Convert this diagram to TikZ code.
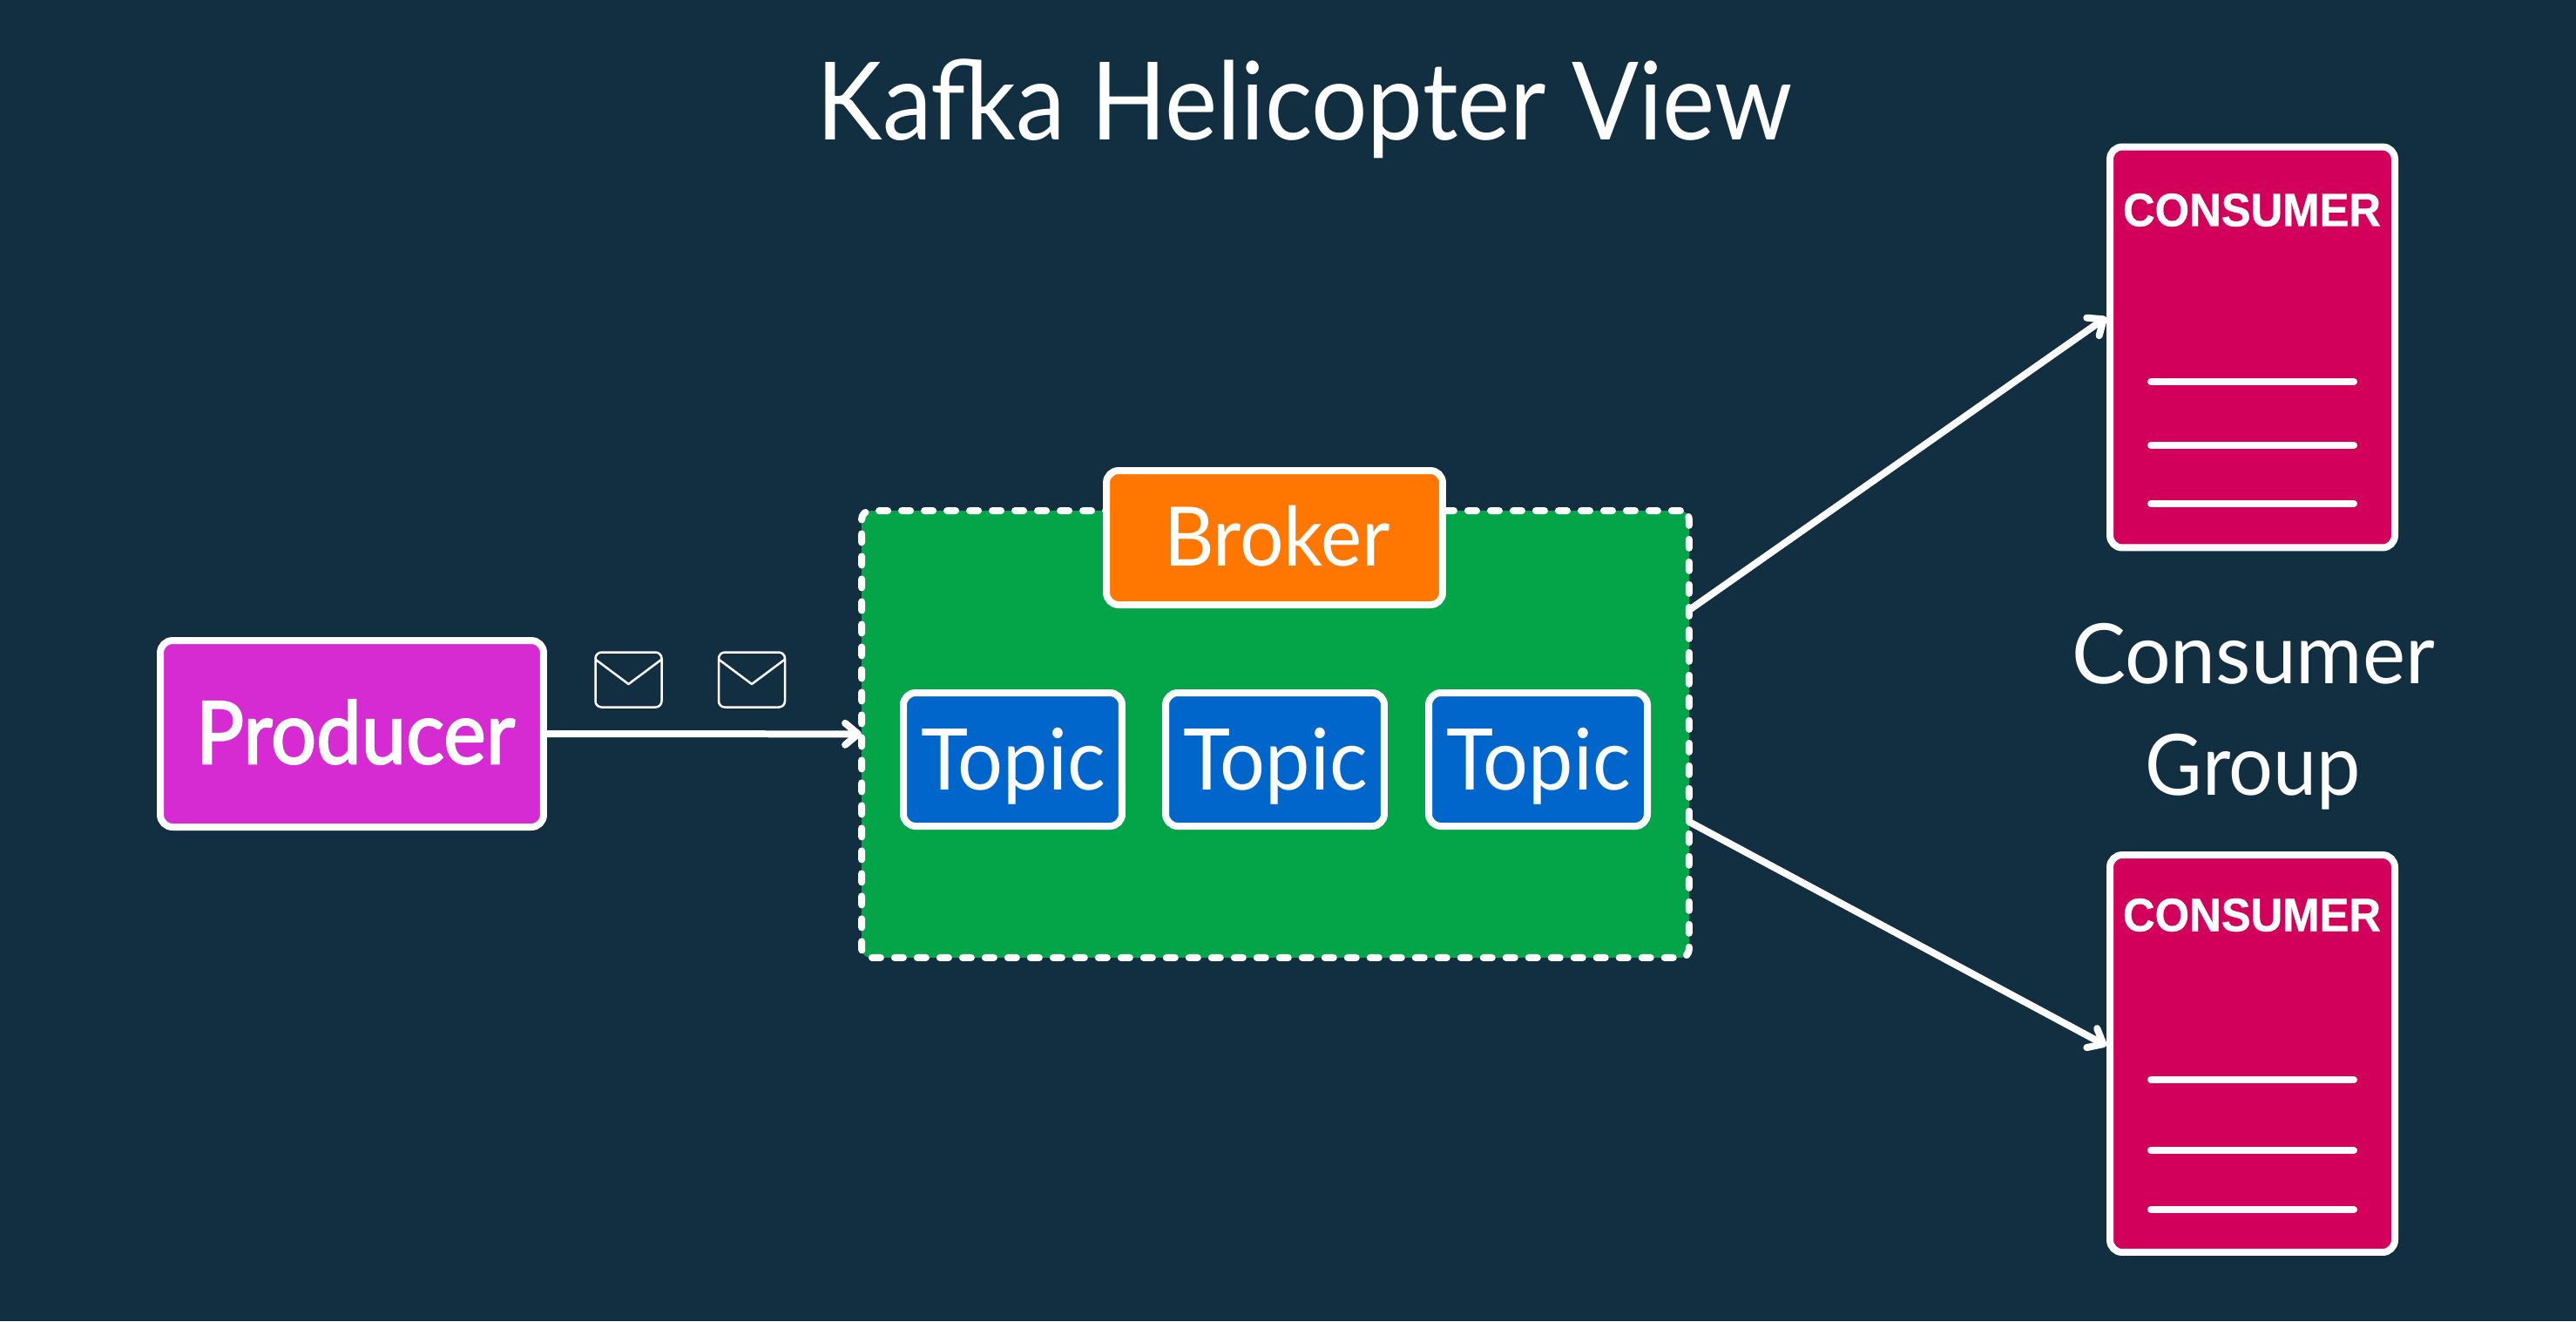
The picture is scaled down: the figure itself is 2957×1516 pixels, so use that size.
\documentclass[tikz,border=0pt]{standalone}
\usepackage{fontspec}
\usepackage{graphicx}
\usetikzlibrary{arrows.meta}
\setmainfont{Lato}
\newfontfamily\handfat[FakeBold=2.2]{Lato}
\newfontfamily\capsfont[BoldFeatures={FakeBold=0.7}]{Liberation Sans}
\definecolor{bgc}{HTML}{122F42}
\definecolor{greenc}{HTML}{04A548}
\definecolor{orangec}{HTML}{FF7700}
\definecolor{bluec}{HTML}{0066CC}
\definecolor{magentac}{HTML}{D62BD2}
\definecolor{crimsonc}{HTML}{D2005A}
\newlength{\unitpx}
\setlength{\unitpx}{0.02cm}
\newcommand{\fittext}[3]{\resizebox*{#1\unitpx}{#2\unitpx}{#3}}
\tikzset{
  x=0.02cm,y=-0.02cm,
  box/.style={draw=white,line width=0.16cm,rounded corners=0.28cm,inner sep=0pt,anchor=center,text=white},
  producerbox/.style={box,fill=magentac,minimum width=8.8cm,minimum height=4.28cm},
  brokerbox/.style={box,fill=orangec,minimum width=7.72cm,minimum height=3.08cm},
  topicbox/.style={box,fill=bluec,minimum width=5.02cm,minimum height=3.06cm},
  consumerbox/.style={box,fill=crimsonc,minimum width=6.54cm,minimum height=9.2cm},
  areabox/.style={draw=white,fill=greenc,line width=0.16cm,outer sep=0pt,dash pattern=on 0.2cm off 0.32cm,line cap=round,rounded corners=0.2cm,minimum width=19cm,minimum height=10.26cm,inner sep=0pt},
  envbox/.style={draw=white,fill=bgc,line width=0.05cm,rounded corners=0.14cm,minimum width=1.52cm,minimum height=1.26cm,inner sep=0pt},
  conn/.style={draw=white,line width=0.16cm,line cap=round,-{Straight Barb[length=0.3cm,width=0.5cm,line width=0.16cm,round]}},
  rowline/.style={draw=white,line width=0.16cm,line cap=round},
  envline/.style={draw=white,line width=0.05cm,line join=round},
  label/.style={text=white,inner sep=0pt,anchor=center},
  capslabel/.style={label}
}
\begin{document}
\begin{tikzpicture}
\useasboundingbox (0,0) rectangle (2957,1516);
\fill[bgc] (0,0) rectangle (2957,1516);
\node[label] (title) at (1497.5,125) {\fittext{1119}{114}{Kafka Helicopter View}};
\node[producerbox] (prod) at (404,842) {};
\node[label] (prodtxt) at (408,840) {\fittext{366}{74}{\handfat Producer}};
\node[envbox] (env1) at (721.5,780) {};
\node[envbox] (env2) at (863,780) {};
\coordinate (env1a) at (684,757); \coordinate (env1b) at (721.5,785); \coordinate (env1c) at (759,757);
\coordinate (env2a) at (825.5,757); \coordinate (env2b) at (863,785); \coordinate (env2c) at (900.5,757);
\draw[envline] (env1a) -- (env1b) -- (env1c);
\draw[envline] (env2a) -- (env2b) -- (env2c);
\node[areabox] (area) at (1464,842.5) {};
\node[brokerbox] (broker) at (1463,617) {};
\node[label] (brokertxt) at (1466,615) {\fittext{260}{70}{Broker}};
\node[topicbox] (t1) at (1162.5,871.5) {};
\node[topicbox] (t2) at (1463.5,871.5) {};
\node[topicbox] (t3) at (1765.5,871.5) {};
\node[label] (t1txt) at (1163,879) {\fittext{212}{88}{Topic}};
\node[label] (t2txt) at (1464,879) {\fittext{212}{88}{Topic}};
\node[label] (t3txt) at (1766,879) {\fittext{212}{88}{Topic}};
\node[consumerbox] (c1) at (2585.5,398.5) {};
\node[consumerbox,minimum height=9.12cm] (c2) at (2585.5,1209) {};
\node[capslabel] (c1txt) at (2585,241) {\fittext{296}{38}{\capsfont\bfseries CONSUMER}};
\node[capslabel] (c2txt) at (2585,1050) {\fittext{296}{38}{\capsfont\bfseries CONSUMER}};
\coordinate (a1) at (2469,438); \coordinate (b1) at (2702,438);
\coordinate (a2) at (2469,511); \coordinate (b2) at (2702,511);
\coordinate (a3) at (2469,578); \coordinate (b3) at (2702,578);
\coordinate (a4) at (2469,1239); \coordinate (b4) at (2702,1239);
\coordinate (a5) at (2469,1320); \coordinate (b5) at (2702,1320);
\coordinate (a6) at (2469,1388); \coordinate (b6) at (2702,1388);
\foreach \n in {1,...,6} \draw[rowline] (a\n) -- (b\n);
\node[label] (cg1) at (2586.5,750) {\fittext{417}{70}{Consumer}};
\node[label] (cg2) at (2586.5,885.5) {\fittext{247}{87}{Group}};
\coordinate (o1) at (1939,700); \coordinate (i1) at (2418,364);
\coordinate (o2) at (1939,943); \coordinate (i2) at (2418,1200);
\draw[conn] (prod) -- (area);
\draw[conn] (o1) -- (i1);
\draw[conn] (o2) -- (i2);
\end{tikzpicture}
\end{document}
